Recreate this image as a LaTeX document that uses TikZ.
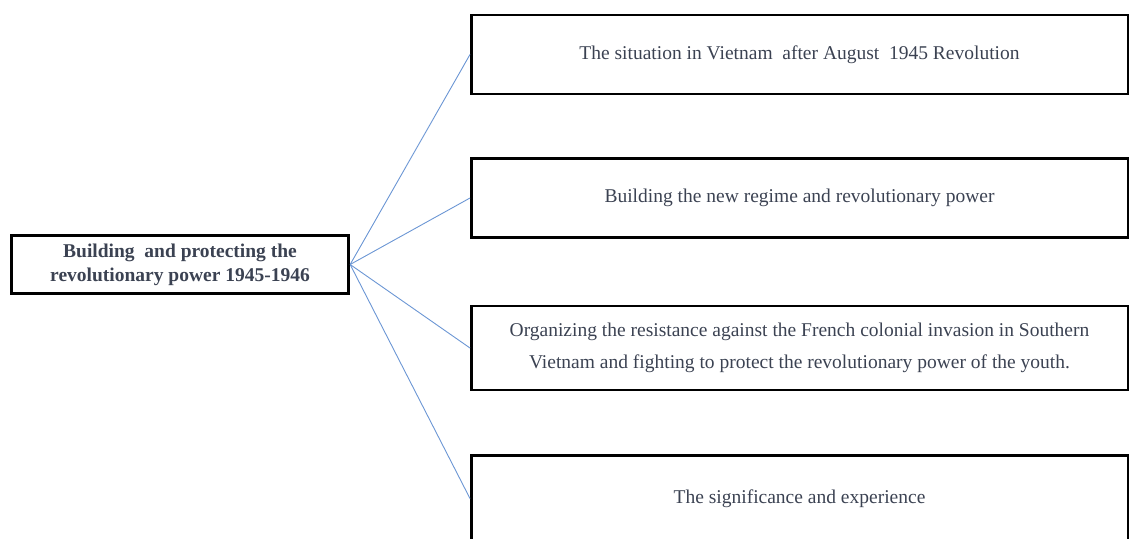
\documentclass[tikz,border=0pt]{standalone}
\usepackage{fontspec}
\setmainfont{Liberation Serif}
\usepackage{xcolor}
\usetikzlibrary{positioning}
\definecolor{textogris}{HTML}{3B4252}
\definecolor{lineaazul}{HTML}{6B96D4}

\begin{document}
\begin{tikzpicture}[x=1pt, y=-1pt, node distance=62pt,
		every node/.style={text=textogris, inner sep=2pt},
		raiz/.style={rectangle, draw=black, line width=2.8pt, minimum width=337.5pt, minimum height=58.5pt, align=center, font=\fontsize{19.5}{24}\selectfont\bfseries},
		caja/.style={rectangle, draw=black, line width=2.5pt, minimum width=656.5pt, minimum height=79pt, align=center, font=\fontsize{19.5}{32}\selectfont},
		rama/.style={draw=lineaazul, line width=0.9pt}
		]
		\useasboundingbox (0,0) rectangle (1131,538);
		\clip (0,0) rectangle (1131,538);
		
		% Nodo principal
		\node[raiz] (poder) at (180,264.5) {Building \ and protecting the\\revolutionary power 1945-1946};
		
		% Subnodos
		\node[caja] (situacion) at (799.5,54.5) {The situation in Vietnam \ after August \ 1945 Revolution};
		\node[caja, below=62pt of situacion] (regimen) {Building the new regime and revolutionary power};
		\node[caja, below=66pt of regimen, minimum height=84pt] (resistencia) {Organizing the resistance against the French colonial invasion in Southern\\Vietnam and fighting to protect the revolutionary power of the youth.};
		\node[caja, below=63pt of resistencia, minimum height=86pt] (significado) {The significance and experience};
		
		% Lineas
		\draw[rama] (poder.east) -- (situacion.west);
		\draw[rama] (poder.east) -- (regimen.west);
		\draw[rama] (poder.east) -- (resistencia.west);
		\draw[rama] (poder.east) -- (significado.west);
		
	\end{tikzpicture}
\end{document}
